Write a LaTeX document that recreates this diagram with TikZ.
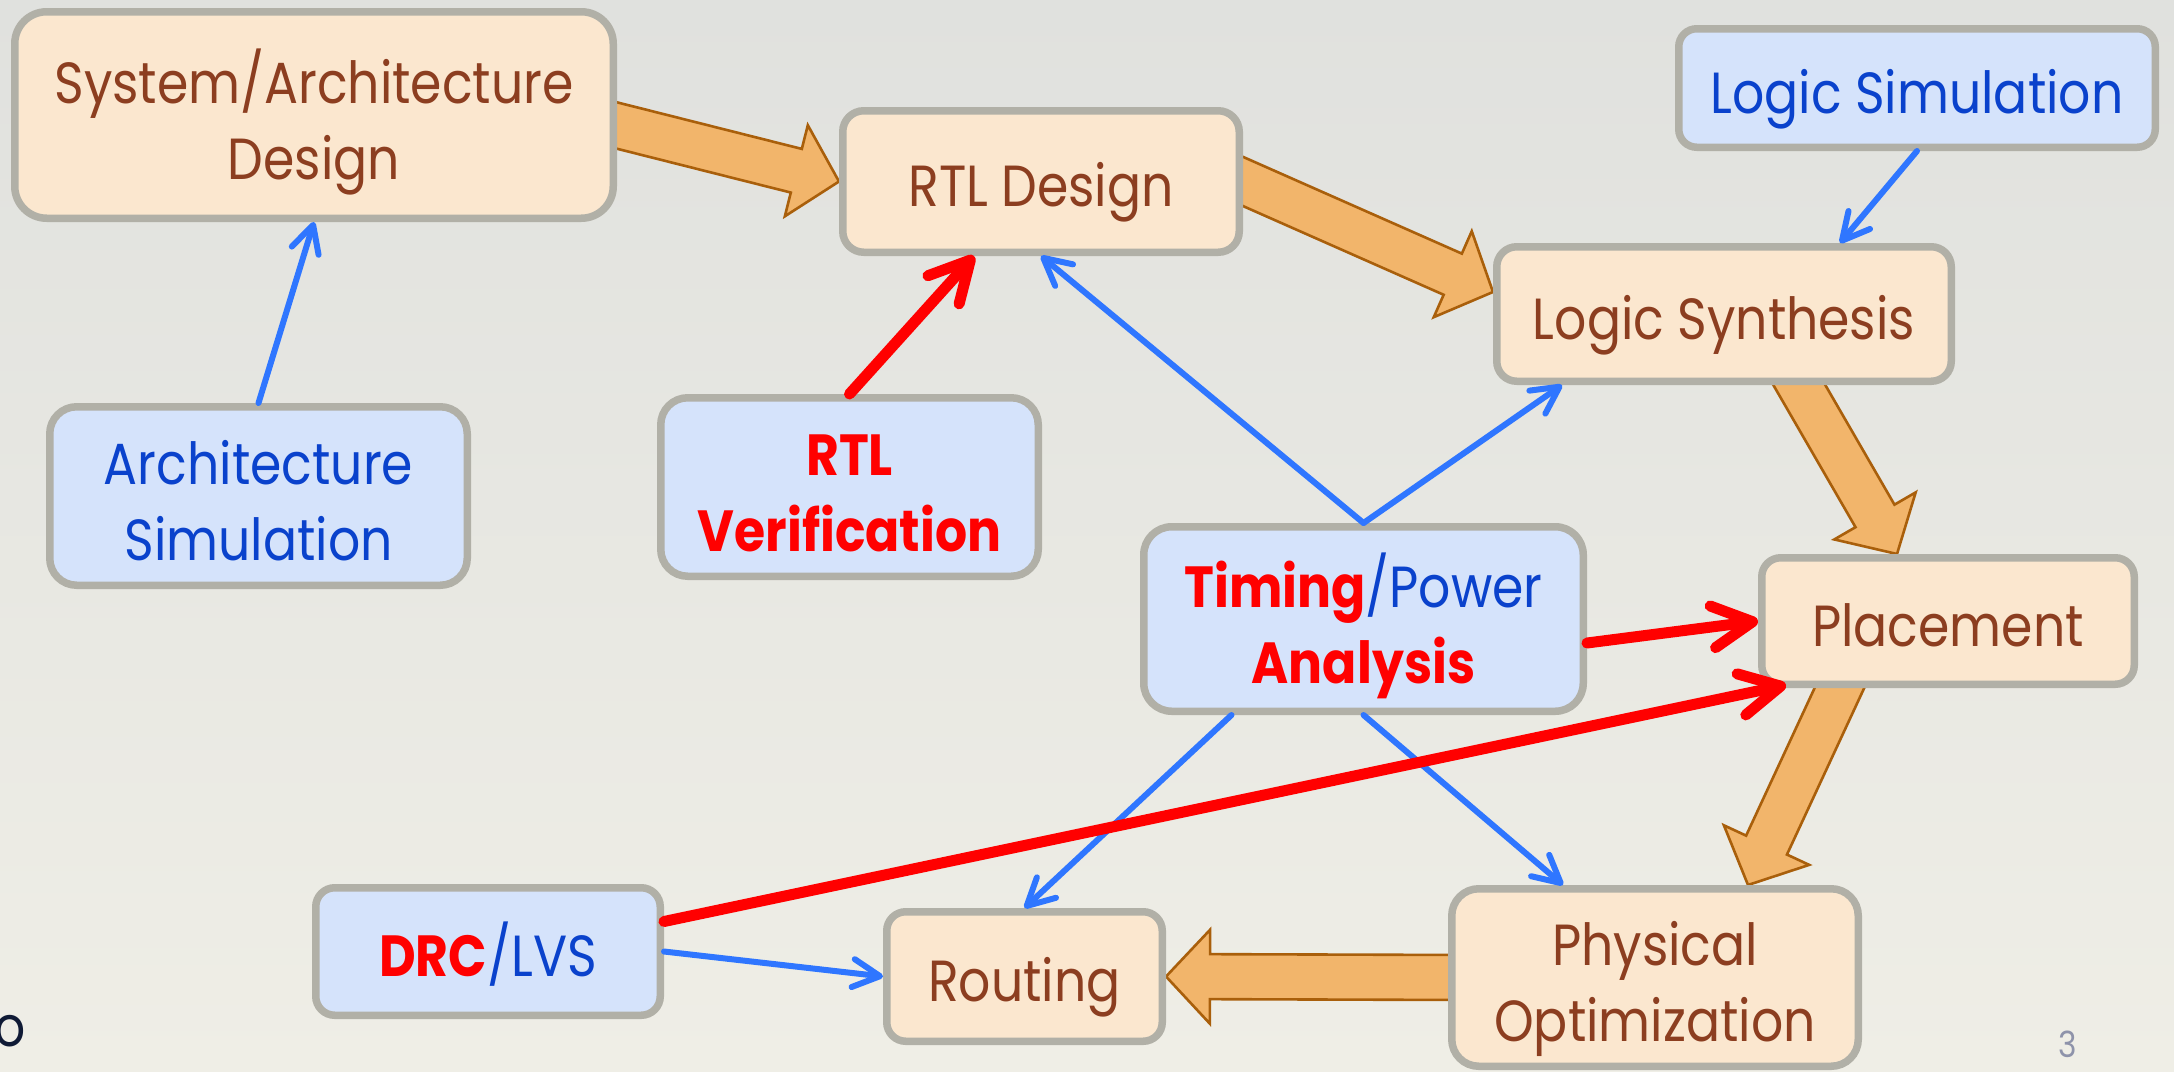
\documentclass[tikz,border=0pt]{standalone}
\usepackage{fontspec}
\setmainfont{Poppins}[FakeStretch=0.87]
\usetikzlibrary{arrows.meta,calc}

\definecolor{bgtop}{HTML}{E0E1DE}
\definecolor{bgbot}{HTML}{EFEEE6}
\definecolor{peach}{HTML}{FBE7CF}
\definecolor{paleblue}{HTML}{D5E3FB}
\definecolor{rim}{HTML}{B1B0A7}
\definecolor{brownink}{HTML}{8C3E20}
\definecolor{blueink}{HTML}{0A42CC}
\definecolor{flowfill}{HTML}{F2B56B}
\definecolor{flowedge}{HTML}{A95F0B}
\definecolor{linkblue}{HTML}{2F76FF}
\definecolor{alertred}{HTML}{FF0000}
\definecolor{pagegray}{HTML}{8E93AA}
\definecolor{navyink}{HTML}{0F1A35}

\newcommand\labelfont{\fontsize{58}{76}\selectfont}

\pgfdeclarelayer{backdrop}
\pgfdeclarelayer{flow}
\pgfsetlayers{backdrop,flow,main}

% wide block arrow from #1 to #2 (tip at #2)
\newcommand\flowarrow[2]{%
  \path[flowstyle] let \p1=#1, \p2=#2,
      \n1={atan2(\y2-\y1,\x2-\x1)}, \n2={veclen(\x2-\x1,\y2-\y1)} in
    [shift={(\p1)}, rotate=\n1]
    (0pt,22.5pt) -- ({\n2-44pt},22.5pt) -- ({\n2-44pt},47pt) -- ({\n2*1pt},0pt)
    -- ({\n2-44pt},-47pt) -- ({\n2-44pt},-22.5pt) -- (0pt,-22.5pt) -- cycle;}

\tikzset{
  box/.style={draw=rim, line width=7.5pt, inner sep=0pt, align=center, font=\labelfont},
  oneline/.style={text height=50.6pt, text depth=0pt},
  twoline/.style={text height=128.6pt, text depth=0pt},
  stage/.style={box, fill=peach, text=brownink},
  tool/.style={box, fill=paleblue, text=blueink},
  flowstyle/.style={fill=flowfill, draw=flowedge, line width=2.6pt, line join=miter},
  bluelink/.style={draw=linkblue, line width=6pt, line cap=round,
    -{Straight Barb[length=27pt,width=28pt,round]}},
  redlink/.style={draw=alertred, line width=11pt, line cap=round,
    -{Straight Barb[length=40pt,width=42pt,round]}},
}

\begin{document}
\begin{tikzpicture}[x=1pt,y=-1pt]
\useasboundingbox (0,0) rectangle (2174,1071);
\begin{pgfonlayer}{backdrop}
  \shade[top color=bgtop, bottom color=bgbot] (0,0) rectangle (2174,1071);
\end{pgfonlayer}

% design stages
\node[stage, twoline, minimum width=598.5pt, minimum height=206.5pt, rounded corners=32pt] (sys) at (314,115) {System/Architecture\\Design};
\node[stage, oneline, minimum width=396.5pt, minimum height=141.5pt, rounded corners=21pt] (rtl) at (1041,181.5) {RTL Design};
\node[stage, oneline, minimum width=454.5pt, minimum height=134.5pt, rounded corners=20pt] (lsyn) at (1724,314) {Logic Synthesis};
\node[stage, oneline, minimum width=372.5pt, minimum height=126.5pt, rounded corners=19pt] (plc) at (1948,621) {Placement};
\node[stage, twoline, minimum width=406.5pt, minimum height=177.5pt, rounded corners=27pt] (phys) at (1655,977.5) {Physical\\Optimization};
\node[stage, oneline, minimum width=275.5pt, minimum height=129.5pt, rounded corners=19pt] (rout) at (1024.5,976.5) {Routing};

% tools
\node[tool, oneline, minimum width=476.5pt, minimum height=118.5pt, rounded corners=18pt] (lsim) at (1917,88) {Logic Simulation};
\node[tool, twoline, minimum width=417.5pt, minimum height=178.5pt, rounded corners=27pt] (asim) at (258.5,496) {Architecture\\Simulation};
\node[tool, twoline, text=alertred, font=\labelfont\bfseries, minimum width=377.5pt, minimum height=178.5pt, rounded corners=27pt] (rver) at (849.5,487) {RTL\\Verification};
\node[tool, twoline, minimum width=439.5pt, minimum height=184.5pt, rounded corners=28pt] (tim) at (1363.5,619) {\textcolor{alertred}{\bfseries Timing}/Power\\\textcolor{alertred}{\bfseries Analysis}};
\node[tool, oneline, minimum width=344.5pt, minimum height=127.5pt, rounded corners=19pt] (drc) at (488,951.5) {\textcolor{alertred}{\bfseries DRC}/LVS};

% main flow
\begin{pgfonlayer}{flow}
  \flowarrow{($(sys.east)+(-18,6)$)}{(rtl.west)}
  \flowarrow{($(rtl.east)+(-18,-8)$)}{($(lsyn.west)+(0,-22)$)}
  \flowarrow{($(lsyn.south)+(62,-23)$)}{($(plc.north)+(-51,0)$)}
  \flowarrow{($(plc.south)+(-97,-25)$)}{($(phys.north)+(93,0)$)}
  \flowarrow{($(phys.west)+(20,0)$)}{(rout.east)}
\end{pgfonlayer}

% feedback and checks
\draw[bluelink] (asim.north) -- (sys.south);
\draw[bluelink] (lsim.south) -- ($(lsyn.north)+(116,0)$);
\draw[bluelink] (tim.north) -- (rtl.south);
\draw[bluelink] (tim.north) -- ($(lsyn.south)+(-162,0)$);
\draw[bluelink] ($(tim.south)+(-132,0)$) -- (rout.north);
\draw[bluelink] (tim.south) -- ($(phys.north)+(-92,0)$);
\draw[bluelink] (drc.east) -- (rout.west);

\draw[redlink] (rver.north) -- ($(rtl.south)+(-67,0)$);
\draw[redlink] ($(tim.east)+(0,24)$) -- (plc.west);
\draw[redlink] ($(drc.east)+(0,-30)$) -- ($(plc.south west)+(28,-3)$);

% page furniture
\node[text=pagegray, font=\fontsize{36}{36}\selectfont, inner sep=0pt] (pageno) at (2068,1044) {3};
\node[text=navyink, font=\fontsize{56}{56}\selectfont, inner sep=0pt, anchor=base] (edge) at (10,1046) {o};
\end{tikzpicture}
\end{document}
